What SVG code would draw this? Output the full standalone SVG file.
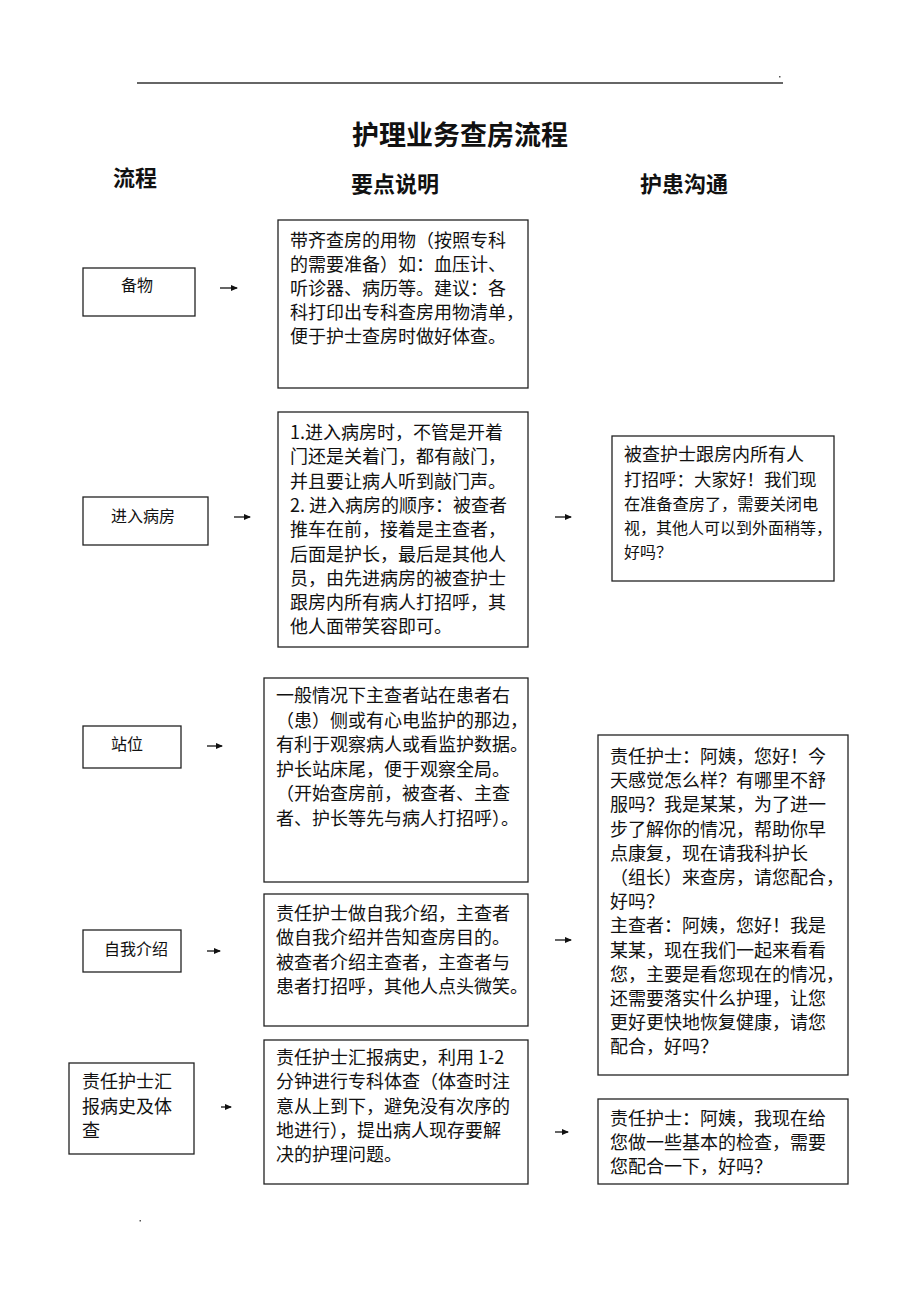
<svg xmlns="http://www.w3.org/2000/svg" width="920" height="1302" viewBox="0 0 920 1302">
<style>
.box{fill:#fff;stroke:#222;stroke-width:1.3}
.t{font-family:"Noto Sans CJK SC","Noto Sans CJK JP",sans-serif;fill:#111;font-size:18px}
.lbl{font-size:16px}
.h{font-family:"Noto Sans CJK SC",sans-serif;font-weight:bold;fill:#111}
.arr{stroke:#111;stroke-width:1.3;marker-end:url(#ah)}
</style>
<defs>
<marker id="ah" markerUnits="userSpaceOnUse" markerWidth="7" markerHeight="6" refX="6" refY="3" orient="auto">
<path d="M0,0 L7,3 L0,6 z" fill="#111"/>
</marker>
</defs>
<rect width="920" height="1302" fill="#fff"/>
<g id="header">
<line x1="137" y1="83" x2="783" y2="83" stroke="#333" stroke-width="1.3"/>
<rect x="779" y="76" width="1.5" height="1.5" fill="#555"/>
<text class="h" x="460" y="145" font-size="27" text-anchor="middle">护理业务查房流程</text>
<text class="h" x="113" y="186" font-size="22">流程</text>
<text class="h" x="351" y="192" font-size="22">要点说明</text>
<text class="h" x="640" y="192" font-size="22">护患沟通</text>
</g>
<g id="n-beiwu">
<rect class="box" x="83" y="268" width="112" height="48"/>
<text class="t lbl" x="121" y="291">备物</text>
</g>
<g id="d-beiwu">
<rect class="box" x="278" y="220" width="250" height="168"/>
<text class="t" x="290" y="247"><tspan x="290">带齐查房的用物（按照专科</tspan><tspan x="290" dy="24">的需要准备）如：血压计、</tspan><tspan x="290" dy="24">听诊器、病历等。建议：各</tspan><tspan x="290" dy="24">科打印出专科查房用物清单，</tspan><tspan x="290" dy="24">便于护士查房时做好体查。</tspan></text>
</g>
<g id="n-jinru">
<rect class="box" x="83" y="497" width="125" height="48"/>
<text class="t lbl" x="111" y="522">进入病房</text>
</g>
<g id="d-jinru">
<rect class="box" x="278" y="412" width="250" height="235"/>
<text class="t" x="290" y="439"><tspan x="290">1.进入病房时，不管是开着</tspan><tspan x="290" dy="24.3">门还是关着门，都有敲门，</tspan><tspan x="290" dy="24.3">并且要让病人听到敲门声。</tspan><tspan x="290" dy="24.3">2. 进入病房的顺序：被查者</tspan><tspan x="290" dy="24.3">推车在前，接着是主查者，</tspan><tspan x="290" dy="24.3">后面是护长，最后是其他人</tspan><tspan x="290" dy="24.3">员，由先进病房的被查护士</tspan><tspan x="290" dy="24.3">跟房内所有病人打招呼，其</tspan><tspan x="290" dy="24.3">他人面带笑容即可。</tspan></text>
</g>
<g id="c-jinru">
<rect class="box" x="612" y="436" width="222" height="145"/>
<text class="t" x="624" y="461"><tspan x="624" font-size="18">被查护士跟房内所有人</tspan><tspan x="624" dy="24.5" font-size="17.5">打招呼：大家好！我们现</tspan><tspan x="624" dy="24.5" font-size="16.2">在准备查房了，需要关闭电</tspan><tspan x="624" dy="24" font-size="16">视，其他人可以到外面稍等，</tspan><tspan x="624" dy="24" font-size="16">好吗？</tspan></text>
</g>
<g id="n-zhanwei">
<rect class="box" x="83" y="726" width="98" height="42"/>
<text class="t lbl" x="111" y="750">站位</text>
</g>
<g id="d-zhanwei">
<rect class="box" x="264" y="678" width="264" height="204"/>
<text class="t" x="276" y="702"><tspan x="276">一般情况下主查者站在患者右</tspan><tspan x="276" dy="24.5">（患）侧或有心电监护的那边，</tspan><tspan x="276" dy="24.5">有利于观察病人或看监护数据。</tspan><tspan x="276" dy="24.5">护长站床尾，便于观察全局。</tspan><tspan x="276" dy="24.5">（开始查房前，被查者、主查</tspan><tspan x="276" dy="24.5">者、护长等先与病人打招呼）。</tspan></text>
</g>
<g id="c-ziwo">
<rect class="box" x="598" y="735" width="250" height="340"/>
<text class="t" x="610" y="763"><tspan x="610">责任护士：阿姨，您好！今</tspan><tspan x="610" dy="24.2">天感觉怎么样？有哪里不舒</tspan><tspan x="610" dy="24.2">服吗？我是某某，为了进一</tspan><tspan x="610" dy="24.2">步了解你的情况，帮助你早</tspan><tspan x="610" dy="24.2">点康复，现在请我科护长</tspan><tspan x="610" dy="24.2">（组长）来查房，请您配合，</tspan><tspan x="610" dy="24.2">好吗？</tspan><tspan x="610" dy="24.2">主查者：阿姨，您好！我是</tspan><tspan x="610" dy="24.2">某某，现在我们一起来看看</tspan><tspan x="610" dy="24.2">您，主要是看您现在的情况，</tspan><tspan x="610" dy="24.2">还需要落实什么护理，让您</tspan><tspan x="610" dy="24.2">更好更快地恢复健康，请您</tspan><tspan x="610" dy="24.2">配合，好吗？</tspan></text>
</g>
<g id="n-ziwo">
<rect class="box" x="83" y="930" width="98" height="42"/>
<text class="t lbl" x="104" y="955">自我介绍</text>
</g>
<g id="d-ziwo">
<rect class="box" x="264" y="894" width="264" height="132"/>
<text class="t" x="276" y="920"><tspan x="276">责任护士做自我介绍，主查者</tspan><tspan x="276" dy="24.4">做自我介绍并告知查房目的。</tspan><tspan x="276" dy="24.4">被查者介绍主查者，主查者与</tspan><tspan x="276" dy="24.4">患者打招呼，其他人点头微笑。</tspan></text>
</g>
<g id="n-huibao">
<rect class="box" x="69" y="1063" width="125" height="91"/>
<text class="t" x="82" y="1088"><tspan x="82">责任护士汇</tspan><tspan x="82" dy="24.5">报病史及体</tspan><tspan x="82" dy="24.5">查</tspan></text>
</g>
<g id="d-huibao">
<rect class="box" x="264" y="1040" width="264" height="144"/>
<text class="t" x="276" y="1064"><tspan x="276">责任护士汇报病史，利用 1-2</tspan><tspan x="276" dy="24.3">分钟进行专科体查（体查时注</tspan><tspan x="276" dy="24.3">意从上到下，避免没有次序的</tspan><tspan x="276" dy="24.3">地进行），提出病人现存要解</tspan><tspan x="276" dy="24.3">决的护理问题。</tspan></text>
</g>
<g id="c-huibao">
<rect class="box" x="598" y="1099" width="250" height="85"/>
<text class="t" x="610" y="1125"><tspan x="610">责任护士：阿姨，我现在给</tspan><tspan x="610" dy="24">您做一些基本的检查，需要</tspan><tspan x="610" dy="24">您配合一下，好吗？</tspan></text>
</g>
<g id="connectors">
<line class="arr" x1="220" y1="288" x2="237" y2="288"/>
<line class="arr" x1="234" y1="517" x2="250" y2="517"/>
<line class="arr" x1="555" y1="517" x2="571" y2="517"/>
<line class="arr" x1="207" y1="746" x2="222" y2="746"/>
<line class="arr" x1="207" y1="951" x2="220" y2="951"/>
<line class="arr" x1="555" y1="940" x2="571" y2="940"/>
<line class="arr" x1="221" y1="1107" x2="231" y2="1107" stroke-width="1"/>
<line class="arr" x1="555" y1="1132" x2="568" y2="1132"/>
</g>
<rect x="139.5" y="1220" width="1.5" height="1.5" fill="#555"/>
</svg>
